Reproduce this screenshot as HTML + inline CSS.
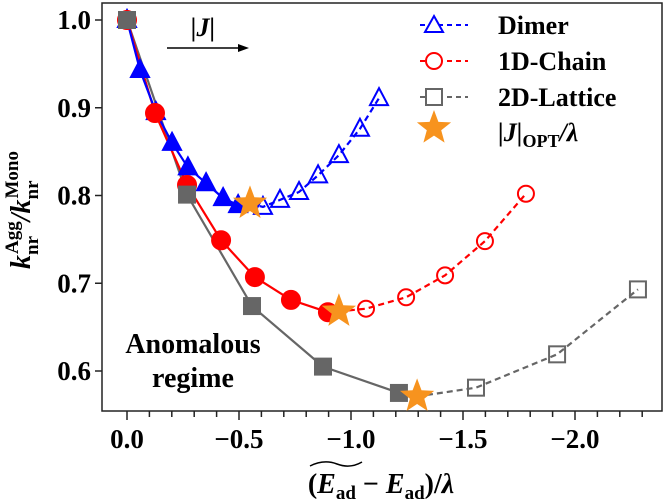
<!DOCTYPE html>
<html><head><meta charset="utf-8"><style>
html,body{margin:0;padding:0;background:#fff;}
svg{display:block;}
svg text{font-family:"Liberation Serif","DejaVu Serif",serif;font-weight:bold;}
</style></head><body>
<svg id="chart" width="666" height="499" viewBox="0 0 666 499">
<rect x="102" y="3" width="560" height="408" fill="none" stroke="#222" stroke-width="1.5"/>
<g id="axes"></g>
<g id="series"></g>
<g>
  <g>
    <line x1="420" y1="25" x2="468" y2="25" stroke="#00f" stroke-width="2" stroke-dasharray="5,4"/>
    <polygon points="434,16 443,32 425,32" fill="#fff" stroke="#00f" stroke-width="2"/>
    <text x="498" y="34" font-size="26">Dimer</text>
  </g>
  <g>
    <line x1="420" y1="61" x2="468" y2="61" stroke="#f00" stroke-width="2" stroke-dasharray="5,4"/>
    <circle cx="434" cy="61" r="8" fill="#fff" stroke="#f00" stroke-width="2"/>
    <text x="498" y="70" font-size="26">1D-Chain</text>
  </g>
  <g>
    <line x1="420" y1="97" x2="468" y2="97" stroke="#666" stroke-width="2" stroke-dasharray="5,4"/>
    <rect x="426" y="89" width="16" height="16" fill="#fff" stroke="#666" stroke-width="2"/>
    <text x="498" y="106" font-size="26">2D-Lattice</text>
  </g>
  <g>
    <polygon id="legstar" fill="#f7931e"/>
    <text x="498" y="141" font-size="26"><tspan font-style="italic">|J|</tspan><tspan font-size="18" dy="6">OPT</tspan><tspan dy="-6" font-style="italic">/λ</tspan></text>
  </g>
</g>
<text x="203" y="36" font-size="26" text-anchor="middle" font-style="italic">|J|</text>
<g>
  <line x1="167" y1="48" x2="240" y2="48" stroke="#000" stroke-width="1.5"/>
  <polygon points="249,48 238,44 238,52" fill="#000"/>
</g>
<text x="193" y="353" font-size="28" text-anchor="middle">Anomalous</text>
<text x="193" y="387" font-size="28" text-anchor="middle">regime</text>
<text transform="translate(30,210) rotate(-90)" font-size="28" text-anchor="middle"><tspan font-style="italic">k</tspan><tspan font-size="19" dy="8">nr</tspan><tspan font-size="19" dy="-20" dx="-18">Agg</tspan><tspan dy="12" font-style="italic">/k</tspan><tspan font-size="19" dy="8">nr</tspan><tspan font-size="19" dy="-20" dx="-18">Mono</tspan></text>
<text x="381" y="493" font-size="28" text-anchor="middle">(<tspan font-style="italic">E</tspan><tspan font-size="19" dy="6">ad</tspan><tspan dy="-6"> − </tspan><tspan font-style="italic">E</tspan><tspan font-size="19" dy="6">ad</tspan><tspan dy="-6">)/</tspan><tspan font-style="italic">λ</tspan></text>
<path d="M310,466 Q324,459 337,464 Q350,469 362,462" fill="none" stroke="#000" stroke-width="1.5"/>
</svg>
<script>
const xTickVals=[0,0.5,1.0,1.5,2.0];
const xTickLabels=["0.0","\u22120.5","\u22121.0","\u22121.5","\u22122.0"];
const yTickVals=[1.0,0.9,0.8,0.7,0.6];
const yTickLabels=["1.0","0.9","0.8","0.7","0.6"];
const dimerFilledX=[0,0.058,0.129,0.201,0.272,0.353,0.429,0.496];
const dimerFilledY=[1.0,0.943,0.895,0.860,0.832,0.814,0.797,0.789];
const dimerOpenX=[0.607,0.683,0.768,0.853,0.946,1.04,1.125];
const dimerOpenY=[0.787,0.795,0.804,0.823,0.846,0.876,0.911];
const chainFilledX=[0,0.125,0.268,0.42,0.571,0.732,0.897];
const chainFilledY=[1.0,0.894,0.812,0.749,0.707,0.681,0.667];
const chainOpenX=[1.067,1.246,1.42,1.598,1.781];
const chainOpenY=[0.671,0.684,0.709,0.748,0.802];
const latFilledX=[0,0.268,0.558,0.875,1.214];
const latFilledY=[1.0,0.801,0.674,0.605,0.575];
const latOpenX=[1.558,1.92,2.281];
const latOpenY=[0.581,0.619,0.693];
const starX=[0.549,0.946,1.295];
const starY=[0.791,0.668,0.571];

const NS="http://www.w3.org/2000/svg";
const X=v=>127+224*v;
const Y=v=>20+877.5*(1-v);
function mk(tag,attrs,parent){const e=document.createElementNS(NS,tag);for(const k in attrs)e.setAttribute(k,attrs[k]);parent.appendChild(e);return e;}
function starPts(cx,cy,R){const r=R*0.42;let p=[];for(let i=0;i<10;i++){const a=-Math.PI/2+i*Math.PI/5;const rr=i%2?r:R;p.push((cx+rr*Math.cos(a)).toFixed(1)+","+(cy+rr*Math.sin(a)).toFixed(1));}return p.join(" ");}
document.getElementById('legstar').setAttribute('points',starPts(434,128,18));

const axes=document.getElementById('axes');
for(let i=0;i<=24;i++){const v=i/10;const x=X(v);if(x>662)break;
  const t=mk('line',{x1:x,y1:411,x2:x,y2:i%5===0?420:417,stroke:'#222','stroke-width':1.5},axes);
  
  }
xTickVals.forEach((v,i)=>{const t=mk('text',{x:X(v),y:448,'font-size':27,'text-anchor':'middle'},axes);t.textContent=xTickLabels[i];
  
  });
yTickVals.forEach((v,i)=>{const l=mk('line',{x1:95,y1:Y(v),x2:102,y2:Y(v),stroke:'#222','stroke-width':1.5},axes);
  
  
  const t=mk('text',{x:91,y:Y(v)+9,'font-size':27,'text-anchor':'end'},axes);t.textContent=yTickLabels[i];
  
  });

const S=document.getElementById('series');
function line(xs,ys,color,dash,name){const pts=xs.map((x,i)=>X(x)+","+Y(ys[i])).join(" ");
  const a={points:pts,fill:'none',stroke:color,'stroke-width':2.2};if(dash)a['stroke-dasharray']='6,4';
  const p=mk('polyline',a,S);
  
  }
function marker(type,x,y,color,filled,name){const cx=X(x),cy=Y(y);const f=filled?color:'none';let e;
  if(type==='tri')e=mk('polygon',{points:`${cx},${cy-10} ${cx+9},${cy+7} ${cx-9},${cy+7}`,fill:f,stroke:color,'stroke-width':2},S);
  else if(type==='circ')e=mk('circle',{cx:cx,cy:cy,r:filled?9:8,fill:f,stroke:color,'stroke-width':2},S);
  else e=mk('rect',{x:cx-8,y:cy-8,width:16,height:16,fill:f,stroke:color,'stroke-width':2},S);
  
  }

line(latFilledX.concat([starX[2]]),latFilledY.concat([starY[2]]),'#666',false,'lattice-line-solid');
line([starX[2]].concat(latOpenX),[starY[2]].concat(latOpenY),'#666',true,'lattice-line-dashed');
line(chainFilledX.concat([starX[1]]),chainFilledY.concat([starY[1]]),'#f00',false,'chain-line-solid');
line([starX[1]].concat(chainOpenX),[starY[1]].concat(chainOpenY),'#f00',true,'chain-line-dashed');
line(dimerFilledX.concat([starX[0]]),dimerFilledY.concat([starY[0]]),'#00f',false,'dimer-line-solid');
line([starX[0]].concat(dimerOpenX),[starY[0]].concat(dimerOpenY),'#00f',true,'dimer-line-dashed');

dimerFilledX.forEach((x,i)=>marker('tri',x,dimerFilledY[i],'#00f',true,'dimer-point'));
dimerOpenX.forEach((x,i)=>marker('tri',x,dimerOpenY[i],'#00f',false,'dimer-point-open'));
chainFilledX.forEach((x,i)=>marker('circ',x,chainFilledY[i],'#f00',true,'chain-point'));
chainOpenX.forEach((x,i)=>marker('circ',x,chainOpenY[i],'#f00',false,'chain-point-open'));
latFilledX.forEach((x,i)=>marker('sq',x,latFilledY[i],'#666',true,'lattice-point'));
latOpenX.forEach((x,i)=>marker('sq',x,latOpenY[i],'#666',false,'lattice-point-open'));
starX.forEach((x,i)=>{const s=mk('polygon',{points:starPts(X(x),Y(starY[i]),18),fill:'#f7931e'},S);
  
  });
</script>
</body></html>
